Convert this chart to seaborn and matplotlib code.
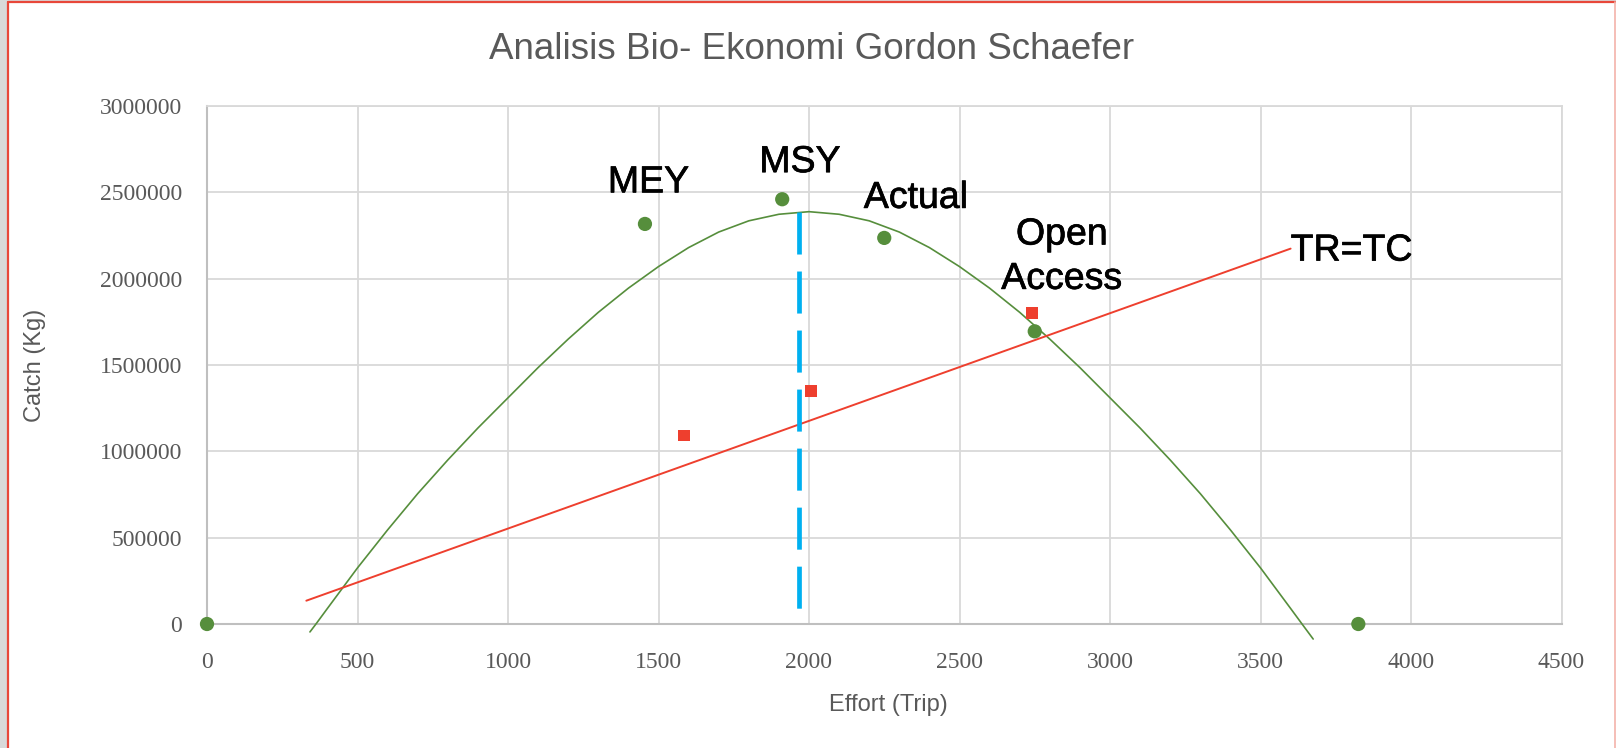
import matplotlib
matplotlib.use("Agg")
import numpy as np
import pandas as pd
import seaborn as sns
import matplotlib.pyplot as plt
import matplotlib.patheffects as pe
from matplotlib.lines import Line2D
from matplotlib.patches import Rectangle

# ---------------- data
# green points (effort, catch)
pt_effort = [0, 1455, 1911, 2250, 2750, 3825]
pt_catch = [0, 2317000, 2460000, 2236000, 1695000, 0]

# red squares
sq_effort = [1584, 2006, 2740]
sq_catch = [1092000, 1348000, 1799000]

# sustainable yield curve (green line)
curve_effort = [342, 362, 400, 500, 600, 700, 800, 900, 1000, 1100, 1200, 1300,
                1400, 1500, 1600, 1700, 1800, 1900, 2000, 2100, 2200, 2300,
                2400, 2500, 2600, 2700, 2800, 2900, 3000, 3100, 3200, 3300,
                3400, 3500, 3600, 3638, 3675]
curve_catch = [-46000, 0, 90000, 325000, 545000, 755000, 950000, 1135000,
               1310000, 1485000, 1650000, 1805000, 1945000, 2070000, 2180000,
               2270000, 2335000, 2373000, 2388000, 2373000, 2335000, 2270000,
               2180000, 2070000, 1945000, 1805000, 1650000, 1485000, 1310000,
               1135000, 950000, 755000, 545000, 325000, 90000, 0, -87000]

# TR=TC line
tr_effort = [330, 3600]
tr_catch = [135000, 2174000]

# MSY marker line
msy_effort = [1968, 1968]
msy_catch = [2388000, 0]

labels = ["MEY", "MSY", "Actual", "Open", "Access"]
x_ticks = [0, 500, 1000, 1500, 2000, 2500, 3000, 3500, 4000, 4500]
x_ticklabels = ["0", "500", "1000", "1500", "2000", "2500", "3000", "3500", "4000", "4500"]
y_ticks = [0, 500000, 1000000, 1500000, 2000000, 2500000, 3000000]
y_ticklabels = ["0", "500000", "1000000", "1500000", "2000000", "2500000", "3000000"]

# ---------------- styling
sns.set_style("whitegrid")
plt.rcParams["font.family"] = ["Liberation Sans", "DejaVu Sans"]

GREEN = "#568E3C"
RED = "#EE3F2E"
BLUE = "#00B0F0"
GREY_TXT = "#595959"
GRID = "#D9D9D9"

W, H = 1616, 748
fig = plt.figure(figsize=(W / 100, H / 100), dpi=100, facecolor="#D9D9D9")
fig.patches.append(Rectangle((8 / W, 0), 1, 1 - 3 / H, transform=fig.transFigure,
                             facecolor="white", edgecolor="none", zorder=-10))
fig.add_artist(Line2D([8 / W, 8 / W], [0, 1 - 2 / H], color="#E8473A", lw=1.6))
fig.add_artist(Line2D([8 / W, 1], [1 - 2 / H, 1 - 2 / H], color="#E8473A", lw=1.6))
fig.add_artist(Line2D([1 - 1.5 / W, 1 - 1.5 / W], [0, 1 - 2 / H], color="#F4B3AA", lw=1.2))

ax = fig.add_axes([207 / W, (H - 624) / H, 1354.5 / W, 518 / H])
ax.set_facecolor("white")

df_curve = pd.DataFrame({"effort": curve_effort, "catch": curve_catch})
sns.lineplot(data=df_curve, x="effort", y="catch", sort=False, estimator=None,
             color=GREEN, lw=1.2, clip_on=False, ax=ax, zorder=3)

df_tr = pd.DataFrame({"effort": tr_effort, "catch": tr_catch})
sns.lineplot(data=df_tr, x="effort", y="catch", sort=False, estimator=None,
             color=RED, lw=1.4, ax=ax, zorder=3)

df_msy = pd.DataFrame({"effort": msy_effort, "catch": msy_catch})
sns.lineplot(data=df_msy, x="effort", y="catch", sort=False, estimator=None,
             color=BLUE, lw=3.4, linestyle=(0, (8.9, 3.6)), solid_capstyle="butt",
             dash_capstyle="butt", ax=ax, zorder=4)

df_sq = pd.DataFrame({"effort": sq_effort, "catch": sq_catch})
sns.scatterplot(data=df_sq, x="effort", y="catch", marker="s", s=72, color=RED,
                edgecolor="none", linewidth=0, ax=ax, zorder=5)

df_pt = pd.DataFrame({"effort": pt_effort, "catch": pt_catch})
sns.scatterplot(data=df_pt, x="effort", y="catch", marker="o", s=105, color=GREEN,
                edgecolor="none", linewidth=0, clip_on=False, ax=ax, zorder=6)

# point labels
heavy = [pe.withStroke(linewidth=0.5, foreground="black")]
lab_kw = dict(fontsize=27, color="black", ha="center", va="baseline", zorder=7,
              path_effects=heavy)
ax.text(1467, 2500000, labels[0], **lab_kw)
ax.text(1970, 2617000, labels[1], **lab_kw)
ax.text(2355, 2410000, labels[2], **lab_kw)
ax.text(2840, 2198000, labels[3], **lab_kw)
ax.text(2840, 1941000, labels[4], **lab_kw)
ax.text(3600, 2105000, "TR=TC", fontsize=27, color="black", ha="left",
        va="baseline", zorder=7, path_effects=heavy)

# axes
ax.set_xlim(0, 4500)
ax.set_ylim(0, 3000000)
ax.set_xticks(x_ticks)
ax.set_xticklabels(x_ticklabels)
ax.set_yticks(y_ticks)
ax.set_yticklabels(y_ticklabels)
for lab in ax.get_xticklabels() + ax.get_yticklabels():
    lab.set_family(["Liberation Serif", "DejaVu Serif"])
    lab.set_fontsize(17)
    lab.set_color(GREY_TXT)
ax.tick_params(axis="x", length=0, pad=20)
ax.tick_params(axis="y", length=0, pad=18)

ax.grid(True, color=GRID, lw=1.3)
for side in ["top", "right"]:
    ax.spines[side].set_color(GRID)
    ax.spines[side].set_linewidth(1.3)
for side in ["left", "bottom"]:
    ax.spines[side].set_color("#BFBFBF")
    ax.spines[side].set_linewidth(1.5)

ax.set_xlabel("Effort (Trip)", fontsize=17, color=GREY_TXT)
ax.set_ylabel("Catch (Kg)", fontsize=17, color=GREY_TXT)
ax.xaxis.set_label_coords(0.503, -0.156)
ax.xaxis.label.set_va("center")
ax.yaxis.set_label_coords(-0.127, 0.5)
ax.yaxis.label.set_va("center")

fig.text(0.502, 1 - 49.5 / H, "Analisis Bio- Ekonomi Gordon Schaefer",
         fontsize=26.5, color=GREY_TXT, ha="center", va="center")

fig.savefig("out.png", dpi=100, facecolor=fig.get_facecolor())
